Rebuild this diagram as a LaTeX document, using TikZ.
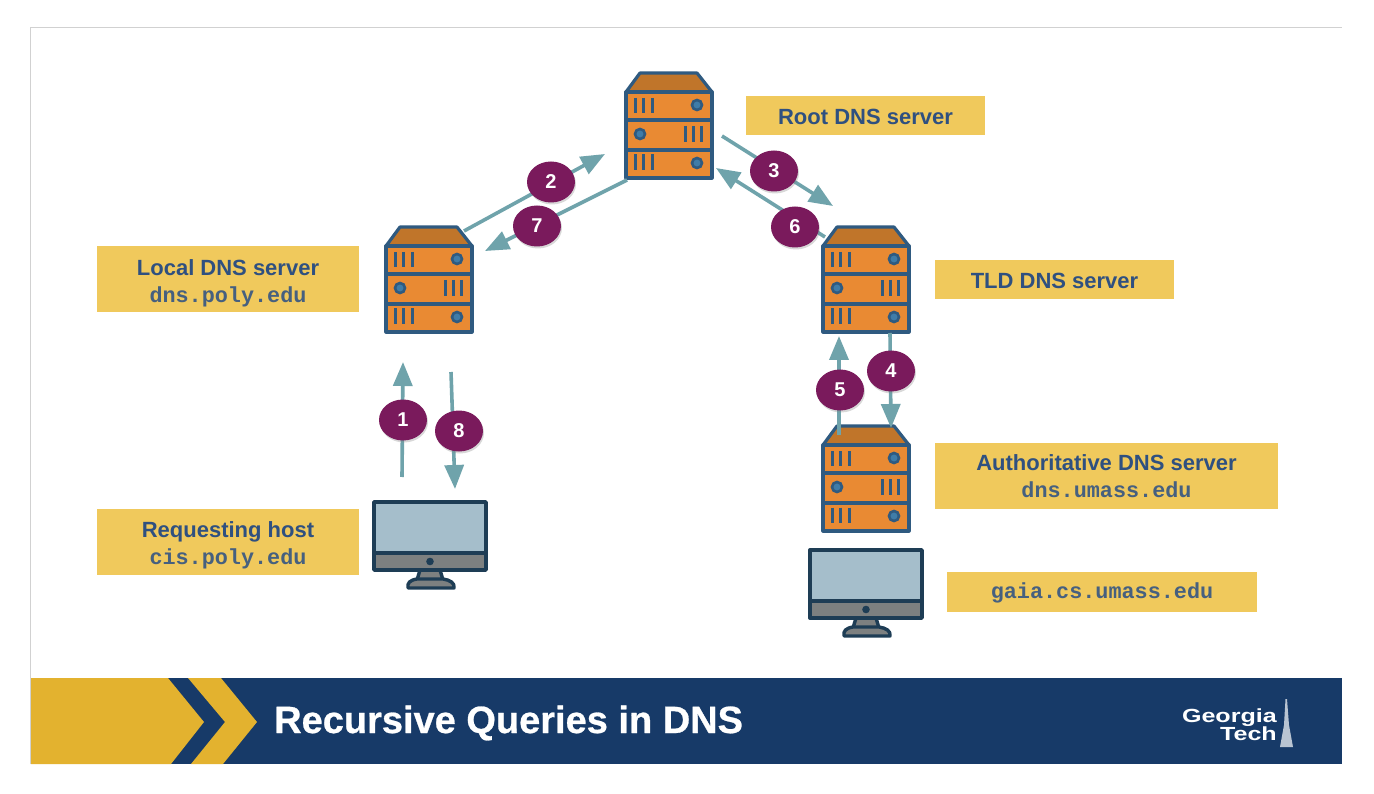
\documentclass[tikz,border=0pt]{standalone}
\usepackage{fontspec}
\setmainfont{Liberation Sans}
\setmonofont{Liberation Mono}
\newfontfamily\titlefont[BoldFeatures={FakeBold=0.7}]{Liberation Sans}
\newfontfamily\logofont[BoldFeatures={FakeStretch=1.32}]{Liberation Sans}
\usetikzlibrary{arrows.meta,shadows,shapes.geometric}
\definecolor{lblbg}{HTML}{F0C95C}
\definecolor{lbltxt}{HTML}{2F5080}
\definecolor{monotxt}{HTML}{46607F}
\definecolor{arrowc}{HTML}{6FA3AB}
\definecolor{badge}{HTML}{7A1A5C}
\definecolor{navy}{HTML}{173A68}
\definecolor{gold}{HTML}{E3B22F}
\definecolor{srvline}{HTML}{2F5A80}
\definecolor{roof}{HTML}{C0752A}
\definecolor{body}{HTML}{E98A33}
\definecolor{led}{HTML}{3F7CA8}
\definecolor{monline}{HTML}{1E3D55}
\definecolor{screen}{HTML}{A5BECB}
\definecolor{chin}{HTML}{7D8080}
\newcommand{\lonetop}[1]{\rule{0pt}{#1pt}}
\newcommand{\singletop}{\rule{0pt}{18pt}}
\newcommand{\mn}[1]{{\ttfamily\color{monotxt}\fontsize{21.8}{27}\selectfont #1}}
\tikzset{
  lbl/.style={fill=lblbg,inner sep=0pt,align=center,text=lbltxt,font=\fontsize{22}{27}\selectfont\bfseries},
  anchorbox/.style={inner sep=0pt,minimum width=#1},
  flow/.style={draw=arrowc,line width=3.6pt,-{Triangle[length=24pt,width=19pt]}},
  num/.style={ellipse,fill=badge,text=white,minimum width=48pt,minimum height=41pt,inner sep=0pt,font=\fontsize{20}{20}\selectfont\bfseries,drop shadow={opacity=.3,shadow xshift=1pt,shadow yshift=-2pt}},
  server/.pic={
    \draw[srvline,line width=3.2pt,line join=round,fill=roof] (-43,-33) -- (-29,-52) -- (28,-52) -- (43,-33) -- cycle;
    \draw[srvline,line width=3.2pt,line join=round,fill=body] (-43,-33) rectangle (43,53);
    \draw[srvline,line width=3.2pt] (-43,-5) -- (43,-5) (-43,25) -- (43,25);
    \draw[srvline,line width=3pt]
      (-34,-27) -- (-34,-12) (-25.5,-27) -- (-25.5,-12) (-17,-27) -- (-17,-12)
      (16,1) -- (16,17) (24,1) -- (24,17) (32,1) -- (32,17)
      (-34,29.5) -- (-34,45) (-25.5,29.5) -- (-25.5,45) (-17,29.5) -- (-17,45);
    \draw[srvline,line width=2.6pt,fill=led] (28,-20) circle (5) (-29,9) circle (5) (28,38) circle (5);
  },
  monitor/.pic={
    \draw[monline,line width=3.4pt,line join=round,fill=chin] (-10,34) -- (-13,44) -- (13,44) -- (10,34) -- cycle;
    \draw[monline,line width=3.4pt,line join=round,fill=chin] (-13,43) .. controls (-20,44) and (-23,47) .. (-22,52) -- (24,52) .. controls (25,47) and (20,44) .. (13,43) -- cycle;
    \draw[monline,line width=3.4pt,line join=round,fill=screen] (-56,-34) rectangle (56,17);
    \draw[monline,line width=3.4pt,line join=round,fill=chin] (-56,17) rectangle (56,34);
    \fill[monline] (0,25.5) circle (3.8);
  }
}
\begin{document}
\begin{tikzpicture}[x=1pt,y=-1pt]
\useasboundingbox (0,0) rectangle (1374,794);
\fill[white] (0,0) rectangle (1374,794);
\draw[black!18,line width=1pt] (30,764) -- (30,28) -- (1342,28);
% banner
\fill[navy] (31,678) rectangle (1342,764);
\fill[gold] (31,678) -- (168,678) -- (204,722) -- (171,764) -- (31,764) -- cycle;
\fill[gold] (188,678) -- (221,678) -- (257,722) -- (223,764) -- (191,764) -- (225,722) -- cycle;
\node[anchor=base west,text=white,font=\titlefont\fontsize{38}{38}\selectfont\bfseries,inner sep=0pt] (title) at (274,733) {Recursive Queries in DNS};
\node[anchor=base east,text=white,font=\logofont\fontsize{19}{19}\selectfont\bfseries,inner sep=0pt] (logoa) at (1277,722) {Georgia};
\node[anchor=base east,text=white,font=\logofont\fontsize{19}{19}\selectfont\bfseries,inner sep=0pt] (logob) at (1277,740) {Tech};
\fill[white!70!navy] (1285.5,699) -- (1287,699) -- (1289,725) -- (1293,747) -- (1280,747) -- (1284,725) -- cycle;
% servers
\path (669,125) pic {server};  \node[anchorbox=86pt,minimum height=106pt] (root) at (669,125) {};
\path (429,279) pic {server};  \node[anchorbox=86pt,minimum height=106pt] (local) at (429,279) {};
\path (866,279) pic {server};  \node[anchorbox=86pt,minimum height=106pt] (tld) at (866,279) {};
\path (866,478) pic {server};  \node[anchorbox=86pt,minimum height=106pt] (auth) at (866,478) {};
% monitors
\path (430,536) pic {monitor}; \node[anchorbox=113pt,minimum height=88pt] (host) at (430,545) {};
\path (866,584) pic {monitor}; \node[anchorbox=113pt,minimum height=88pt] (gaia) at (866,593) {};
% labels
\node[lbl,minimum width=239pt,minimum height=39pt] (lroot) at (865.5,115.5) {\singletop Root DNS server};
\node[lbl,minimum width=262pt,minimum height=66pt] (llocal) at (228,279) {\lonetop{25}Local DNS server\\[0pt]\mn{dns.poly.edu}};
\node[lbl,minimum width=239pt,minimum height=39pt] (ltld) at (1054.5,279.5) {\singletop TLD DNS server};
\node[lbl,minimum width=343pt,minimum height=66pt] (lauth) at (1106.5,476) {\lonetop{17}Authoritative DNS server\\[0pt]\mn{dns.umass.edu}};
\node[lbl,minimum width=262pt,minimum height=66pt] (lhost) at (228,542) {\lonetop{22}Requesting host\\[0pt]\mn{cis.poly.edu}};
\node[lbl,minimum width=310pt,minimum height=40pt] (lgaia) at (1102,592) {\singletop\mn{gaia.cs.umass.edu}};
% connector ends
\coordinate (a1) at (402,477); \coordinate (b1) at (403,362);
\coordinate (a2) at (464,231); \coordinate (b2) at (605,154);
\coordinate (a3) at (722,136); \coordinate (b3) at (833,206);
\coordinate (a4) at (890,333); \coordinate (b4) at (891,428);
\coordinate (a5) at (839,435); \coordinate (b5) at (839,336);
\coordinate (a6) at (825,237); \coordinate (b6) at (716,168);
\coordinate (a7) at (627,180); \coordinate (b7) at (485,251);
\coordinate (a8) at (451,372); \coordinate (b8) at (455,489);
\foreach \i in {1,...,8} \draw[flow] (a\i) -- (b\i);
% badges
\node[num] (n1) at (403,420) {1};
\node[num] (n2) at (551,182) {2};
\node[num] (n3) at (774,171) {3};
\node[num] (n4) at (891,371) {4};
\node[num] (n5) at (840,390) {5};
\node[num] (n6) at (795,227) {6};
\node[num] (n7) at (537,226) {7};
\node[num] (n8) at (459,431) {8};
\end{tikzpicture}
\end{document}
